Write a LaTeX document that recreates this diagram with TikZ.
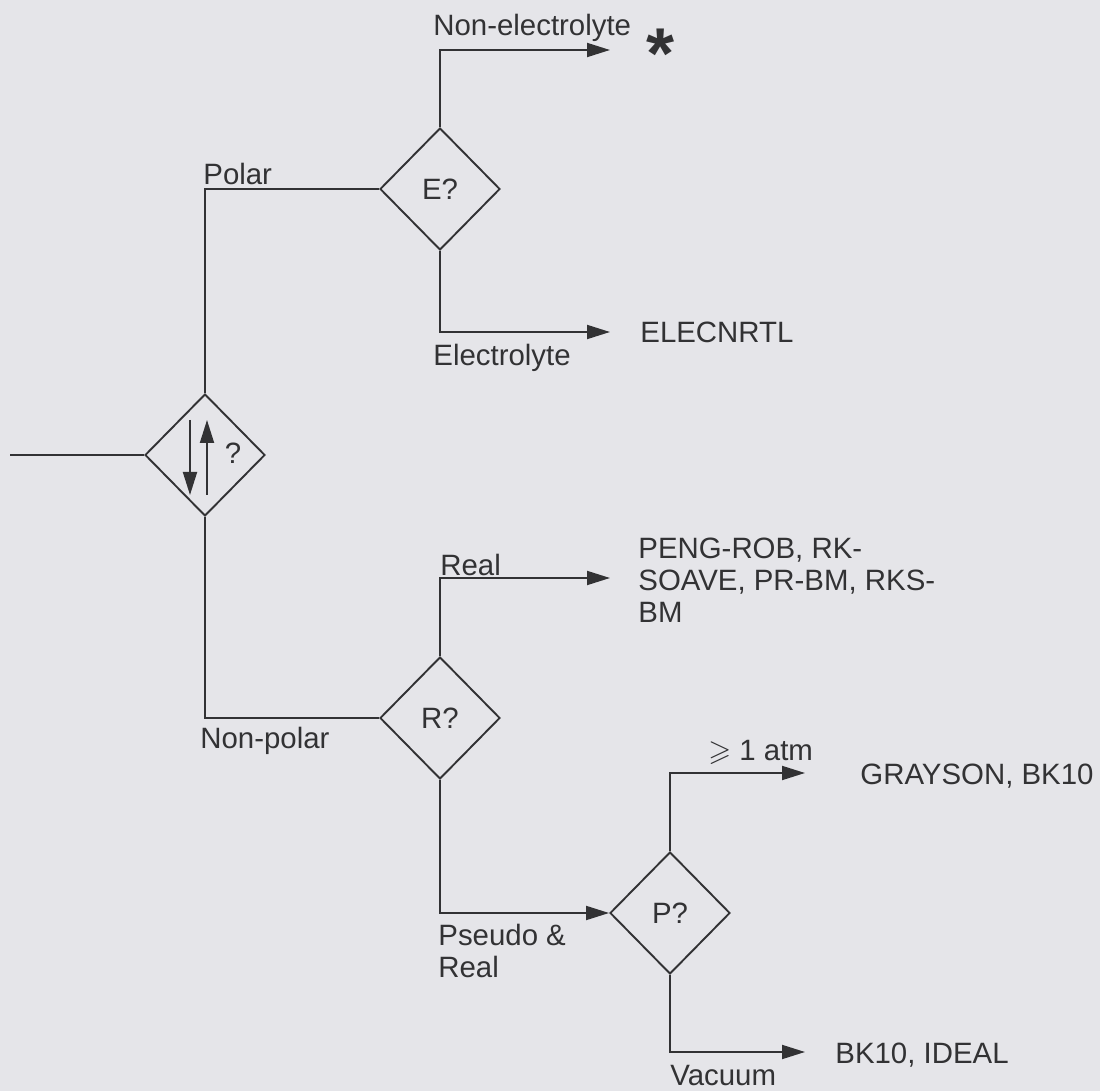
\documentclass[tikz,border=0pt]{standalone}
\usepackage{fontspec}
\setmainfont{Liberation Sans}
\usepackage{amssymb}
\usetikzlibrary{shapes.geometric,arrows.meta}
\definecolor{bg}{RGB}{229,229,233}
\definecolor{ink}{RGB}{50,50,52}
\begin{document}
\begin{tikzpicture}[x=0.5pt,y=-0.5pt,
 dec/.style={diamond,draw=ink,line width=0.95pt,minimum width=60pt,minimum height=61pt,inner sep=0pt,text=ink,font=\fontsize{14.7}{17}\selectfont},
 lbl/.style={anchor=base west,inner sep=0pt,text=ink,font=\fontsize{14.7}{17}\selectfont,align=left},
 conn/.style={draw=ink,line width=0.95pt},
 arr/.style={conn,-{Triangle[length=11.5pt,width=7pt]}}]
\fill[bg] (0,0) rectangle (1100,1091);
\useasboundingbox (0,0) rectangle (1100,1091);
% decisions
\node[dec] (Q) at (205,455) {};
\node[dec] (E) at (440,189) {E?};
\node[dec] (R) at (440,718) {R?};
\node[dec] (P) at (670,913) {P?};
% symbol inside the first diamond
\coordinate (d1) at (190,420);
\coordinate (d2) at (190,495);
\coordinate (u1) at (207,495);
\coordinate (u2) at (207,420);
\draw[arr] (d1) -- (d2);
\draw[arr] (u1) -- (u2);
\node[text=ink,font=\fontsize{14.7}{17}\selectfont,inner sep=0pt] (qm) at (233,453) {?};
% free ends
\coordinate (in) at (10,455);
\coordinate (ne) at (610,50);
\coordinate (el) at (610,332);
\coordinate (re) at (610,578);
\coordinate (ga) at (805,773);
\coordinate (va) at (805,1052);
% connectors
\draw[conn] (in) -- (Q.west);
\draw[conn] (Q.north) |- (E.west);
\draw[arr] (E.north) |- (ne);
\draw[arr] (E.south) |- (el);
\draw[conn] (Q.south) |- (R.west);
\draw[arr] (R.north) |- (re);
\draw[arr] (R.south) |- (P.west);
\draw[arr] (P.north) |- (ga);
\draw[arr] (P.south) |- (va);
% labels
\node[lbl] (lpolar) at (203,185) {Polar};
\node[lbl] (lnonel) at (433,36) {Non-electrolyte};
\node[text=ink,inner sep=0pt,font=\fontsize{36}{36}\selectfont\bfseries] (star) at (661,54) {*};
\node[lbl] (lel) at (433,366) {Electrolyte};
\node[lbl] (elec) at (640,343) {ELECNRTL};
\node[lbl] (lnp) at (200,749) {Non-polar};
\node[lbl] (lreal) at (440,576) {Real};
\node[lbl] (l1) at (638,559) {PENG-ROB, RK-};
\node[lbl] (l2) at (638,591) {SOAVE, PR-BM, RKS-};
\node[lbl] (l3) at (638,623) {BM};
\node[lbl] (lps) at (438,946) {Pseudo \&};
\node[lbl] (lps2) at (438,978) {Real};
\node[lbl] (latm) at (708,761) {$\geqslant$ 1 atm};
\node[lbl] (gray) at (860,784) {GRAYSON, BK10};
\node[lbl] (lvac) at (670,1086) {Vacuum};
\node[lbl] (bk) at (835,1063) {BK10, IDEAL};
\end{tikzpicture}
\end{document}
